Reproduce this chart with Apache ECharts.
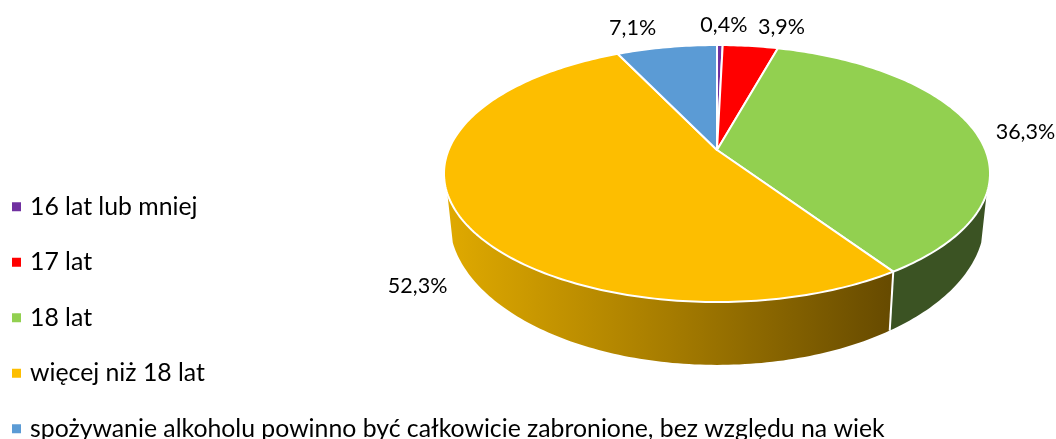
<!DOCTYPE html>
<html>
<head>
<meta charset="utf-8">
<style>
html, body { margin: 0; padding: 0; background: #fff; }
#chart { width: 1056px; height: 439px; }
</style>
<script src="https://cdn.jsdelivr.net/npm/echarts@6/dist/echarts.min.js"></script>
</head>
<body>
<div id="chart"></div>
<script>
var categories = ['16 lat lub mniej', '17 lat', '18 lat', 'więcej niż 18 lat', 'spożywanie alkoholu powinno być całkowicie zabronione, bez względu na wiek']
var values = [0.4, 3.9, 36.3, 52.3, 7.1]
var colors = ['#7030A0', '#FF0000', '#92D050', '#FDBE00', '#5B9BD5']

// rzut perspektywiczny kola (dopasowany do oryginalu)
var CX = 717, CY = 150, R = 268.4, H = 124.2, K = 0.183
var BOTTOM_CY = 193.3, BOTTOM_H = 140.2, BOTTOM_X = 0.98
var WALL_FROM = 109.3, WALL_TO = 250.7
// przesuniecie etykiety od krawedzi wycinka
var labelOffset = [[4, -20], [31, -19], [51, 1], [-43, 68], [-34, -19]]

var total = values.reduce(function (a, b) { return a + b }, 0)

function topPoint (deg) {
  var a = deg * Math.PI / 180
  var x = Math.sin(a), y = -Math.cos(a), d = 1 - K * y
  return [CX + R * x / d, CY + H * y / d]
}
function bottomPoint (deg) {
  var a = deg * Math.PI / 180
  var x = Math.sin(a), y = -Math.cos(a), d = 1 - K * y
  return [CX + BOTTOM_X * R * x / d, BOTTOM_CY + BOTTOM_H * y / d]
}
function arc (fn, from, to) {
  var pts = [], n = Math.max(2, Math.ceil(Math.abs(to - from)))
  for (var i = 0; i <= n; i++) pts.push(fn(from + (to - from) * i / n))
  return pts
}
function wallFill (index) {
  if (index === 2) return '#3B5323'
  return {
    type: 'linear', x: 445, y: 0, x2: 893, y2: 0, global: true,
    colorStops: [
      { offset: 0, color: '#E0AA00' },
      { offset: 0.5, color: '#A67C00' },
      { offset: 1, color: '#664A00' }
    ]
  }
}

function renderSlice (params, api) {
  var idx = params.seriesIndex
  var before = values.slice(0, idx).reduce(function (a, b) { return a + b }, 0)
  var start = before / total * 360
  var end = (before + api.value(0)) / total * 360
  var children = []

  // sciana boczna
  var wFrom = Math.max(start, WALL_FROM), wTo = Math.min(end, WALL_TO)
  if (wTo > wFrom) {
    children.push({
      type: 'polygon',
      shape: { points: arc(topPoint, wFrom, wTo).concat(arc(bottomPoint, wTo, wFrom)) },
      style: { fill: wallFill(idx) }
    })
    if (start >= WALL_FROM) {
      var a = topPoint(start), b = bottomPoint(start)
      children.push({
        type: 'line',
        shape: { x1: a[0], y1: a[1], x2: b[0], y2: b[1] },
        style: { stroke: '#fff', lineWidth: 2 }
      })
    }
  }

  // wierzch
  children.push({
    type: 'polygon',
    z2: 5,
    shape: { points: [[CX, CY]].concat(arc(topPoint, start, end)) },
    style: { fill: colors[idx], stroke: '#fff', lineWidth: 2, lineJoin: 'round' }
  })

  // etykieta
  var mid = topPoint((start + end) / 2)
  children.push({
    type: 'text',
    z2: 10,
    x: mid[0] + labelOffset[idx][0],
    y: mid[1] + labelOffset[idx][1],
    style: {
      text: api.value(0).toFixed(1).replace('.', ',') + '%',
      fill: '#000',
      font: '21.5px Lato',
      align: 'center',
      verticalAlign: 'middle'
    }
  })
  return { type: 'group', children: children }
}

var chart = echarts.init(document.getElementById('chart'), null, { renderer: 'canvas' })
chart.setOption({
  animation: false,
  backgroundColor: '#fff',
  color: colors,
  legend: {
    orient: 'vertical',
    left: 7,
    top: 189,
    width: 1000,
    height: 300,
    itemWidth: 9,
    itemHeight: 9,
    itemGap: 30,
    icon: 'rect',
    data: categories,
    textStyle: { fontFamily: 'Lato', fontSize: 24.8, color: '#000', lineHeight: 25.5, padding: [0, 0, 0, 4] }
  },
  series: categories.map(function (name, i) {
    return {
      type: 'custom',
      name: name,
      coordinateSystem: 'none',
      renderItem: renderSlice,
      itemStyle: { color: colors[i] },
      data: [[values[i]]],
      silent: true
    }
  })
})
</script>
</body>
</html>
